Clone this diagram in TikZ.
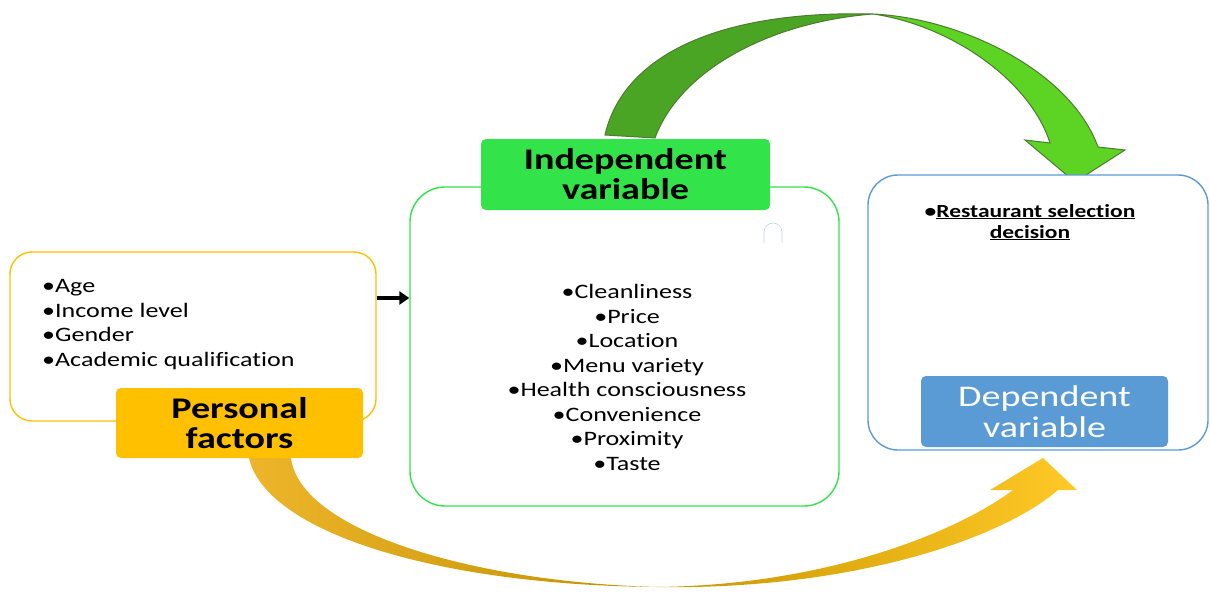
\documentclass[tikz,border=0pt]{standalone}
\usepackage{fontspec}
\setmainfont{Carlito}[FakeStretch=1.27, Ligatures=NoCommon]
\usetikzlibrary{arrows.meta, calc, positioning}

\definecolor{persgold}{HTML}{FFC000}
\definecolor{indgreen}{HTML}{33E34A}
\definecolor{depblue}{HTML}{5B9BD5}
\definecolor{arrdark}{HTML}{4BA524}
\definecolor{arrlight}{HTML}{5DD424}
\definecolor{arredge}{HTML}{4E7B2E}

\begin{document}
\begin{tikzpicture}[x=1pt, y=-1pt,
    bigbox/.style={draw, line width=1.4pt, fill=white, rounded corners=24pt},
    tag/.style={rounded corners=5pt, inner sep=0pt, align=center, text=black},
    tagfont/.style={font=\fontsize{30}{30}\selectfont\bfseries},
    items/.style={inner sep=0pt, font=\fontsize{20.5}{24.5}\selectfont}]

    \useasboundingbox (0,0) rectangle (1210,597);

    % Curved arrow on top (independent -> dependent)
    \fill[arrdark, draw=arredge, line width=1pt]
        (605,135) .. controls (622,60) and (710,10) .. (873,14)
        .. controls (770,22) and (680,70) .. (655,138) -- cycle;
    \fill[arrlight, draw=arredge, line width=1pt]
        (873,14) .. controls (960,18) and (1070,70) .. (1098,147)
        -- (1125,150) -- (1075,182) -- (1025,140) -- (1050,143)
        .. controls (1030,80) and (950,25) .. (873,14) -- cycle;

    % Curved arrow at the bottom (personal -> dependent)
    \shade[left color=persgold!70!brown!90!white, right color=persgold!75!black]
        (249,458) .. controls (265,530) and (430,585) .. (657,587)
        .. controls (470,582) and (300,530) .. (291,458) -- cycle;
    \shade[left color=persgold!78!black, right color=persgold!85!white]
        (657,587) .. controls (850,590) and (1000,540) .. (1058,490)
        -- (1077,490) -- (1043,458) -- (990,490) -- (1013,490)
        .. controls (960,530) and (830,585) .. (657,587) -- cycle;

    % Personal factors
    \node[bigbox, draw=persgold, minimum width=366pt, minimum height=169pt,
        rounded corners=22pt] (pbox) at (193,336.5) {};
    \node[items, anchor=base west, align=left] (plist) at (42,366)
        {•Age\\•Income level\\•Gender\\•Academic qualification};
    \node[tag, tagfont, fill=persgold, minimum width=247pt, minimum height=70pt]
        (ptag) at (239.5,423) {Personal\\factors};

    % Independent variable
    \node[bigbox, draw=indgreen, minimum width=429pt, minimum height=319pt,
        rounded corners=35pt] (ibox) at (624.5,346.5) {};
    \node[tag, tagfont, fill=indgreen, minimum width=289pt, minimum height=71pt]
        (itag) at (625.5,174.5) {Independent\\variable};
    \node[items, anchor=base, align=center] (ilist) at (627,470)
        {•Cleanliness\\•Price\\•Location\\•Menu variety\\•Health consciousness\\
         •Convenience\\•Proximity\\•Taste};
    \draw[depblue!40, line width=0.6pt] (764,243) -- (764,232) arc (180:360:9) -- (782,243);

    % Dependent variable
    \node[bigbox, draw=depblue, minimum width=340pt, minimum height=275pt,
        rounded corners=30pt] (dbox) at (1038,312.5) {};
    \node[items, anchor=base, align=center, font=\fontsize{18.5}{21}\selectfont\bfseries]
        (dtext) at (1030,238) {•\underline{Restaurant selection}\\\underline{decision}};
    \node[tag, fill=depblue, text=white, font=\fontsize{30}{31}\selectfont,
        minimum width=247pt, minimum height=71pt] (dtag) at (1044.5,411.5)
        {Dependent\\variable};

    % Link between the boxes
    \draw[-{Triangle[length=10pt, width=13pt]}, line width=4pt]
        ([yshift=38.5pt]pbox.east) -- ([yshift=38.5pt]pbox.east -| ibox.west);
\end{tikzpicture}
\end{document}
